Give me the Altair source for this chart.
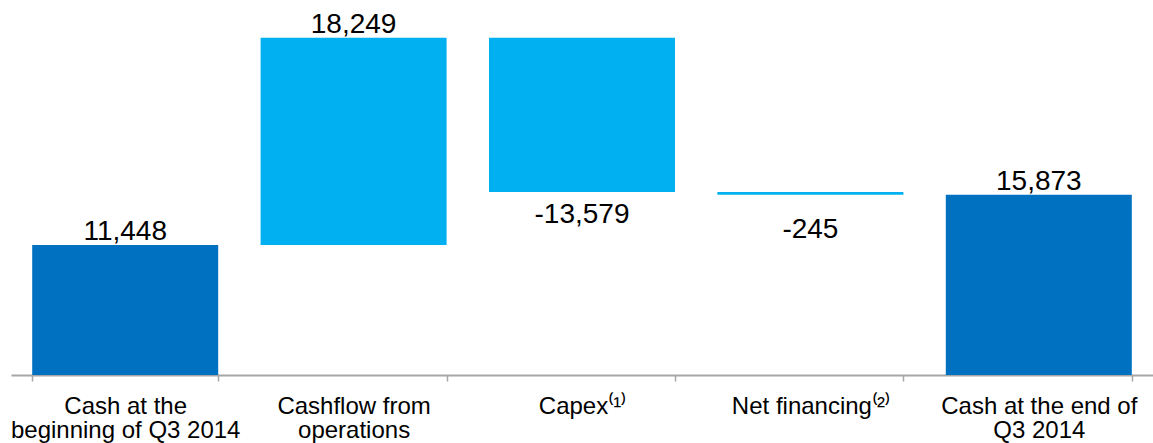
import altair as alt
import pandas as pd

categories = [
    "Cash at the|beginning of Q3 2014",
    "Cashflow from|operations",
    "Capex\u207d\u00b9\u207e",
    "Net financing\u207d\u00b2\u207e",
    "Cash at the end of|Q3 2014",
]
amounts = [11448, 18249, -13579, -245, 15873]
kinds = ["total", "delta", "delta", "delta", "total"]

rows = []
running = 0
for c, a, k in zip(categories, amounts, kinds):
    if k == "total":
        start, end = 0, a
        running = a
    else:
        start, end = running, running + a
        running = end
    rows.append({"cat": c, "amount": a, "kind": k, "start": start, "end": end})
df = pd.DataFrame(rows)

x = alt.X(
    "cat:N",
    sort=categories,
    scale=alt.Scale(paddingInner=0.186, paddingOuter=0.093),
    axis=alt.Axis(
        title=None,
        labelAngle=0,
        labelExpr="split(datum.label, '|')",
        labelFont="Liberation Sans",
        labelFontSize=24,
        labelColor="#000000",
        labelBaseline="top",
        labelPadding=13,
        labelLineHeight=24,
        labelLimit=0,
        domainColor="#A6A6A6",
        domainWidth=2,
        tickColor="#A6A6A6",
        tickWidth=1.5,
        tickSize=6,
        tickBand="extent",
        grid=False,
    ),
)

yscale = alt.Scale(domain=[0, 33020], nice=False, zero=True)

bars = alt.Chart(df).mark_bar(size=186).encode(
    x=x,
    y=alt.Y("start:Q", scale=yscale, axis=None),
    y2="end:Q",
    color=alt.Color(
        "kind:N",
        scale=alt.Scale(domain=["total", "delta"], range=["#0070C0", "#00B0F0"]),
        legend=None,
    ),
)

base = alt.Chart(df).transform_calculate(
    txt="(datum.amount < 0 ? '-' : '') + format(abs(datum.amount), ',')"
)
enc = dict(
    x=x,
    y=alt.Y("end:Q", scale=yscale, axis=None),
    text="txt:N",
)
txt_style = dict(font="Liberation Sans", fontSize=28, color="#000000", baseline="alphabetic")

pos_labels = base.transform_filter("datum.amount >= 0").mark_text(dy=-5, **txt_style).encode(**enc)
neg_big = base.transform_filter("datum.amount < 0 && abs(datum.amount) >= 1000").mark_text(dy=31, **txt_style).encode(**enc)
neg_small = base.transform_filter("datum.amount < 0 && abs(datum.amount) < 1000").mark_text(dy=43, **txt_style).encode(**enc)

chart = (
    alt.layer(bars, pos_labels, neg_big, neg_small)
    .properties(
        width=1142,
        height=375,
        background="#FFFFFF",
        autosize=alt.AutoSizeParams(type="none"),
        padding={"left": 11, "top": 0, "right": 0, "bottom": 68},
    )
    .configure_view(stroke="transparent", strokeWidth=0)
)

chart.save("out.html", embed_options={"renderer": "svg", "actions": False})
